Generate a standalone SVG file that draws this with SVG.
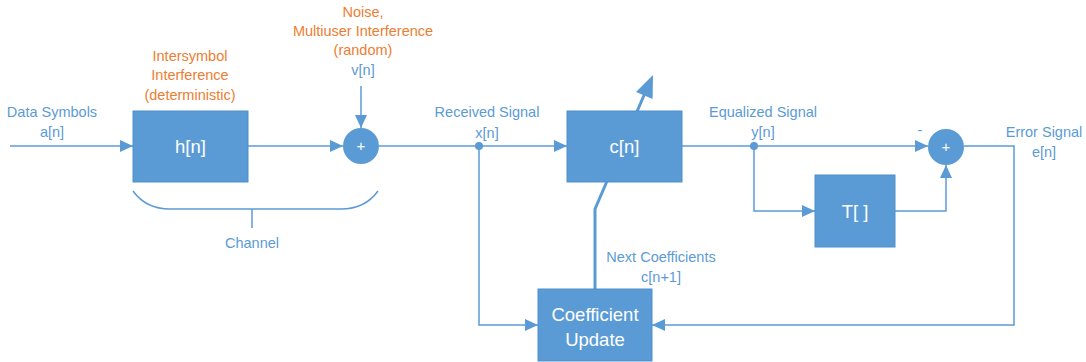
<svg xmlns="http://www.w3.org/2000/svg" width="1086" height="362" viewBox="0 0 1086 362">
  <style>
    .box { fill: #5B9BD5; stroke: #4F8FCC; stroke-width: 1; }
    .sum { fill: #5B9BD5; }
    .wire { fill: none; stroke: #5B9BD5; stroke-width: 1.5; }
    .thick { fill: none; stroke: #5B9BD5; stroke-width: 3; }
    .lbl { font-family: "Liberation Sans", Arial, sans-serif; font-size: 14.5px; fill: #5B9BD5; text-anchor: middle; }
    .note { font-family: "Liberation Sans", Arial, sans-serif; font-size: 14.5px; fill: #ED7D31; text-anchor: middle; }
    .inner { font-family: "Liberation Sans", Arial, sans-serif; font-size: 18.5px; fill: #FFFFFF; text-anchor: middle; }
    .plus { font-family: "Liberation Sans", Arial, sans-serif; font-size: 15px; fill: #FFFFFF; text-anchor: middle; }
  </style>
  <defs>
    <marker id="arrow" markerUnits="userSpaceOnUse" markerWidth="14" markerHeight="12" refX="13" refY="6" orient="auto">
      <path d="M0,0 L13,6 L0,12 Z" fill="#5B9BD5"/>
    </marker>
  </defs>

  <!-- connectors -->
  <g id="connectors">
    <line class="wire" x1="10" y1="146" x2="133" y2="146" marker-end="url(#arrow)"/>
    <line class="wire" x1="248" y1="146" x2="343" y2="146" marker-end="url(#arrow)"/>
    <line class="wire" x1="361" y1="86" x2="361" y2="128" marker-end="url(#arrow)"/>
    <line class="wire" x1="379" y1="146" x2="567" y2="146" marker-end="url(#arrow)"/>
    <line class="wire" x1="682" y1="146" x2="928" y2="146" marker-end="url(#arrow)"/>
    <polyline class="wire" points="754,146 754,211 815,211" marker-end="url(#arrow)"/>
    <polyline class="wire" points="895,211 946,211 946,165" marker-end="url(#arrow)"/>
    <polyline class="wire" points="964,146 1014,146 1014,325 652,325" marker-end="url(#arrow)"/>
    <polyline class="wire" points="479,146 479,325 538,325" marker-end="url(#arrow)"/>
    <circle cx="479" cy="146" r="4" fill="#5B9BD5"/>
    <circle cx="754" cy="146" r="4" fill="#5B9BD5"/>
    <!-- coefficient adaptation arrow drawn across the equalizer block -->
    <polyline class="thick" points="595,289 595,209 645,93"/>
    <polygon points="653,75 636,92 652.6,99" fill="#5B9BD5"/>
    <!-- channel brace -->
    <path class="wire" d="M133,191 Q146,209 170,209 L341,209 Q365,209 378,191"/>
    <line class="wire" x1="252" y1="209" x2="252" y2="228"/>
  </g>

  <g id="equalizer">
    <rect class="box" x="567" y="111" width="115" height="71"/>
    <text class="inner" x="624.5" y="153">c[n]</text>
  </g>

  <g id="channel">
    <rect class="box" x="133" y="111" width="115" height="71"/>
    <text class="inner" x="190.5" y="153">h[n]</text>
  </g>

  <g id="noise-sum">
    <circle class="sum" cx="361" cy="146" r="18"/>
    <text class="plus" x="361" y="151">+</text>
  </g>

  <g id="error-sum">
    <circle class="sum" cx="946" cy="147" r="18"/>
    <text class="plus" x="946" y="152">+</text>
    <text class="lbl" x="920" y="135">-</text>
  </g>

  <g id="decision">
    <rect class="box" x="815" y="175" width="80" height="72"/>
    <text class="inner" x="855" y="218">T[ ]</text>
  </g>

  <g id="coefficient-update">
    <rect class="box" x="538" y="289" width="114" height="72"/>
    <text class="inner" x="595" y="321">Coefficient</text>
    <text class="inner" x="595" y="346">Update</text>
  </g>

  <g id="labels">
    <text class="lbl" x="52" y="117">Data Symbols</text>
    <text class="lbl" x="52" y="137">a[n]</text>
    <text class="note" x="190" y="61">Intersymbol</text>
    <text class="note" x="190" y="80">Interference</text>
    <text class="note" x="190" y="100">(deterministic)</text>
    <text class="note" x="363" y="17">Noise,</text>
    <text class="note" x="363" y="36">Multiuser Interference</text>
    <text class="note" x="363" y="55">(random)</text>
    <text class="lbl" x="363" y="75">v[n]</text>
    <text class="lbl" x="252" y="248">Channel</text>
    <text class="lbl" x="487" y="117">Received Signal</text>
    <text class="lbl" x="487" y="138">x[n]</text>
    <text class="lbl" x="763" y="117">Equalized Signal</text>
    <text class="lbl" x="763" y="137">y[n]</text>
    <text class="lbl" x="1044" y="137">Error Signal</text>
    <text class="lbl" x="1044" y="157">e[n]</text>
    <text class="lbl" x="661" y="262">Next Coefficients</text>
    <text class="lbl" x="661" y="282">c[n+1]</text>
  </g>
</svg>
